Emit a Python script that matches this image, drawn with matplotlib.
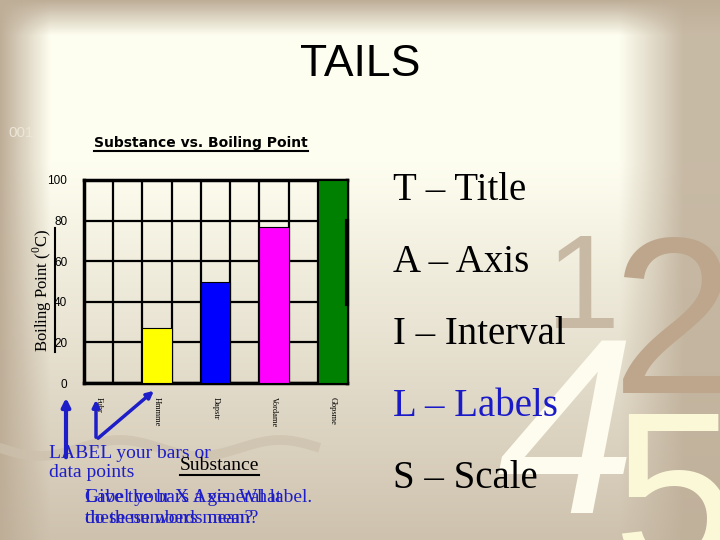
import numpy as np
import matplotlib
matplotlib.use("Agg")
import matplotlib.pyplot as plt

substances = ["Fubr", "Hmmme", "Dapstr", "Vordame", "Gbpsme"]
boiling_points = [0, 27, 50, 77, 100]
bar_colors = ["#ffffff", "#ffff00", "#0000ff", "#ff00ff", "#008000"]
y_ticks = [0, 20, 40, 60, 80, 100]
tails = ["T – Title", "A – Axis", "I – Interval", "L – Labels", "S – Scale"]
tails_colors = ["black", "black", "black", "#1a1ac8", "black"]

plt.rcParams["mathtext.fontset"] = "custom"
plt.rcParams["mathtext.rm"] = "Liberation Serif"

W, H = 720, 540
BLUE = "#1e1ec8"
fig = plt.figure(figsize=(7.2, 5.4), dpi=100)

# slide background gradient
bg = fig.add_axes([0, 0, 1, 1], zorder=0)
xx, yy = np.meshgrid(np.linspace(0, 1, W), np.linspace(0, 1, H))
shade = np.clip((yy - 0.3) / 0.7, 0, 1) * 0.75
shade = 1 - (1 - shade) * (1 - np.clip((xx - 0.86) / 0.09, 0, 1) * 0.85)
shade = 1 - (1 - shade) * (1 - np.clip(1 - yy / 0.065, 0, 1))
shade = 1 - (1 - shade) * (1 - np.clip(1 - xx / 0.07, 0, 1))
light = np.array([254, 254, 240]) / 255
dark = np.array([190, 174, 152]) / 255
bg.imshow(light + (dark - light) * shade[..., None], extent=[0, W, H, 0], aspect="auto")
bg.set_xlim(0, W)
bg.set_ylim(H, 0)
bg.axis("off")

# wavy swoosh
wx = np.linspace(0, 315, 200)
bg.plot(wx, 448 + 8 * np.sin(wx / 160 * 2 * np.pi), color="#cdc1ad", lw=7, alpha=0.7)

# big background digits
dig = dict(family="Liberation Sans", va="baseline")
bg.text(546, 328, "1", fontsize=96, color="#c8b9a4", **dig)
bg.text(612, 393, "2", fontsize=160, color="#bda68c", **dig)
bg.text(496, 513, "4", fontsize=180, style="italic", color="#fdfcef", **dig)
bg.text(612, 568, "5", fontsize=160, color="#fbf8d8", **dig)

# chart
ax = fig.add_axes([84 / W, 1 - 383 / H, 263 / W, 203 / H], zorder=2)
ax.patch.set_alpha(0)
xs = np.arange(len(substances)) * 2 + 1
ax.bar(xs, boiling_points, width=1, color=bar_colors, edgecolor="black", lw=0.8, zorder=3)
ax.set_xlim(0.5, 9.5)
ax.set_ylim(0, 100)
ax.set_yticks(y_ticks)
ax.set_yticklabels([str(v) for v in y_ticks], fontsize=8.5, family="Liberation Sans")
ax.set_xticks(xs)
ax.set_xticklabels(substances, rotation=-90, fontsize=6, family="Liberation Serif", va="top")
ax.set_xticks(np.arange(1.5, 9, 1), minor=True)
ax.grid(which="minor", axis="x", color="black", lw=1.6, zorder=1)
ax.grid(which="major", axis="y", color="black", lw=1.6, zorder=1)
ax.tick_params(which="both", length=0)
ax.tick_params(axis="y", pad=12)
ax.tick_params(axis="x", pad=10)
for s in ax.spines.values():
    s.set_linewidth(2.5)
ax.plot([9.5, 9.5], [39, 80], color="black", lw=3, clip_on=False, zorder=4)

# slide text overlay
ov = fig.add_axes([0, 0, 1, 1], zorder=5)
ov.patch.set_alpha(0)
ov.set_xlim(0, W)
ov.set_ylim(H, 0)
ov.axis("off")

ov.text(360, 65, "TAILS", fontsize=32, family="Liberation Sans", ha="center", va="center")
ov.text(8, 133, "001", fontsize=11, family="Liberation Sans", color="#ece6d8", va="center")
title = ov.text(201, 143, "Substance vs. Boiling Point", fontsize=10, weight="bold",
                family="DejaVu Sans", ha="center", va="center")
ylab = ov.text(42, 290, "Boiling Point ($^0$C)", fontsize=12, family="Liberation Serif",
               rotation=90, ha="center", va="center")

for i, (t, c) in enumerate(zip(tails, tails_colors)):
    ov.text(393, 190 + i * 72, t, fontsize=28, family="Liberation Serif", color=c, va="center")

ov.annotate("", xy=(66, 395), xytext=(66, 460),
            arrowprops=dict(arrowstyle="-|>", color=BLUE, lw=3, mutation_scale=12))
ov.annotate("", xy=(96, 397), xytext=(96, 440),
            arrowprops=dict(arrowstyle="-|>", color=BLUE, lw=2.5, mutation_scale=10))
ov.annotate("", xy=(156, 389), xytext=(96, 440),
            arrowprops=dict(arrowstyle="-|>", color=BLUE, lw=2.5, mutation_scale=10))

ov.text(49, 463, "LABEL your bars or\ndata points", fontsize=14, family="Liberation Serif",
        color=BLUE, va="center", linespacing=1.15)
sub = ov.text(180, 465, "Substance", fontsize=14, family="Liberation Serif", va="center")
ov.text(85, 508, "Label your X Axis. What\ndo these words mean?", fontsize=14,
        family="Liberation Serif", color=BLUE, va="center", linespacing=1.3)
ov.text(85, 508, "Give the bars a general label.\nthese numbers mean?", fontsize=14,
        family="Liberation Serif", color=BLUE, va="center", linespacing=1.3)

# underlines
fig.canvas.draw()
r = fig.canvas.get_renderer()
for t in (title, sub):
    bb = t.get_window_extent(r)
    ov.plot([bb.x0, bb.x1], [H - bb.y0 + 1, H - bb.y0 + 1], color="black", lw=1.5)
bb = ylab.get_window_extent(r)
ov.plot([bb.x1 + 1, bb.x1 + 1], [H - bb.y0, H - bb.y1], color="black", lw=1.5)

fig.savefig("out.png", dpi=100)
